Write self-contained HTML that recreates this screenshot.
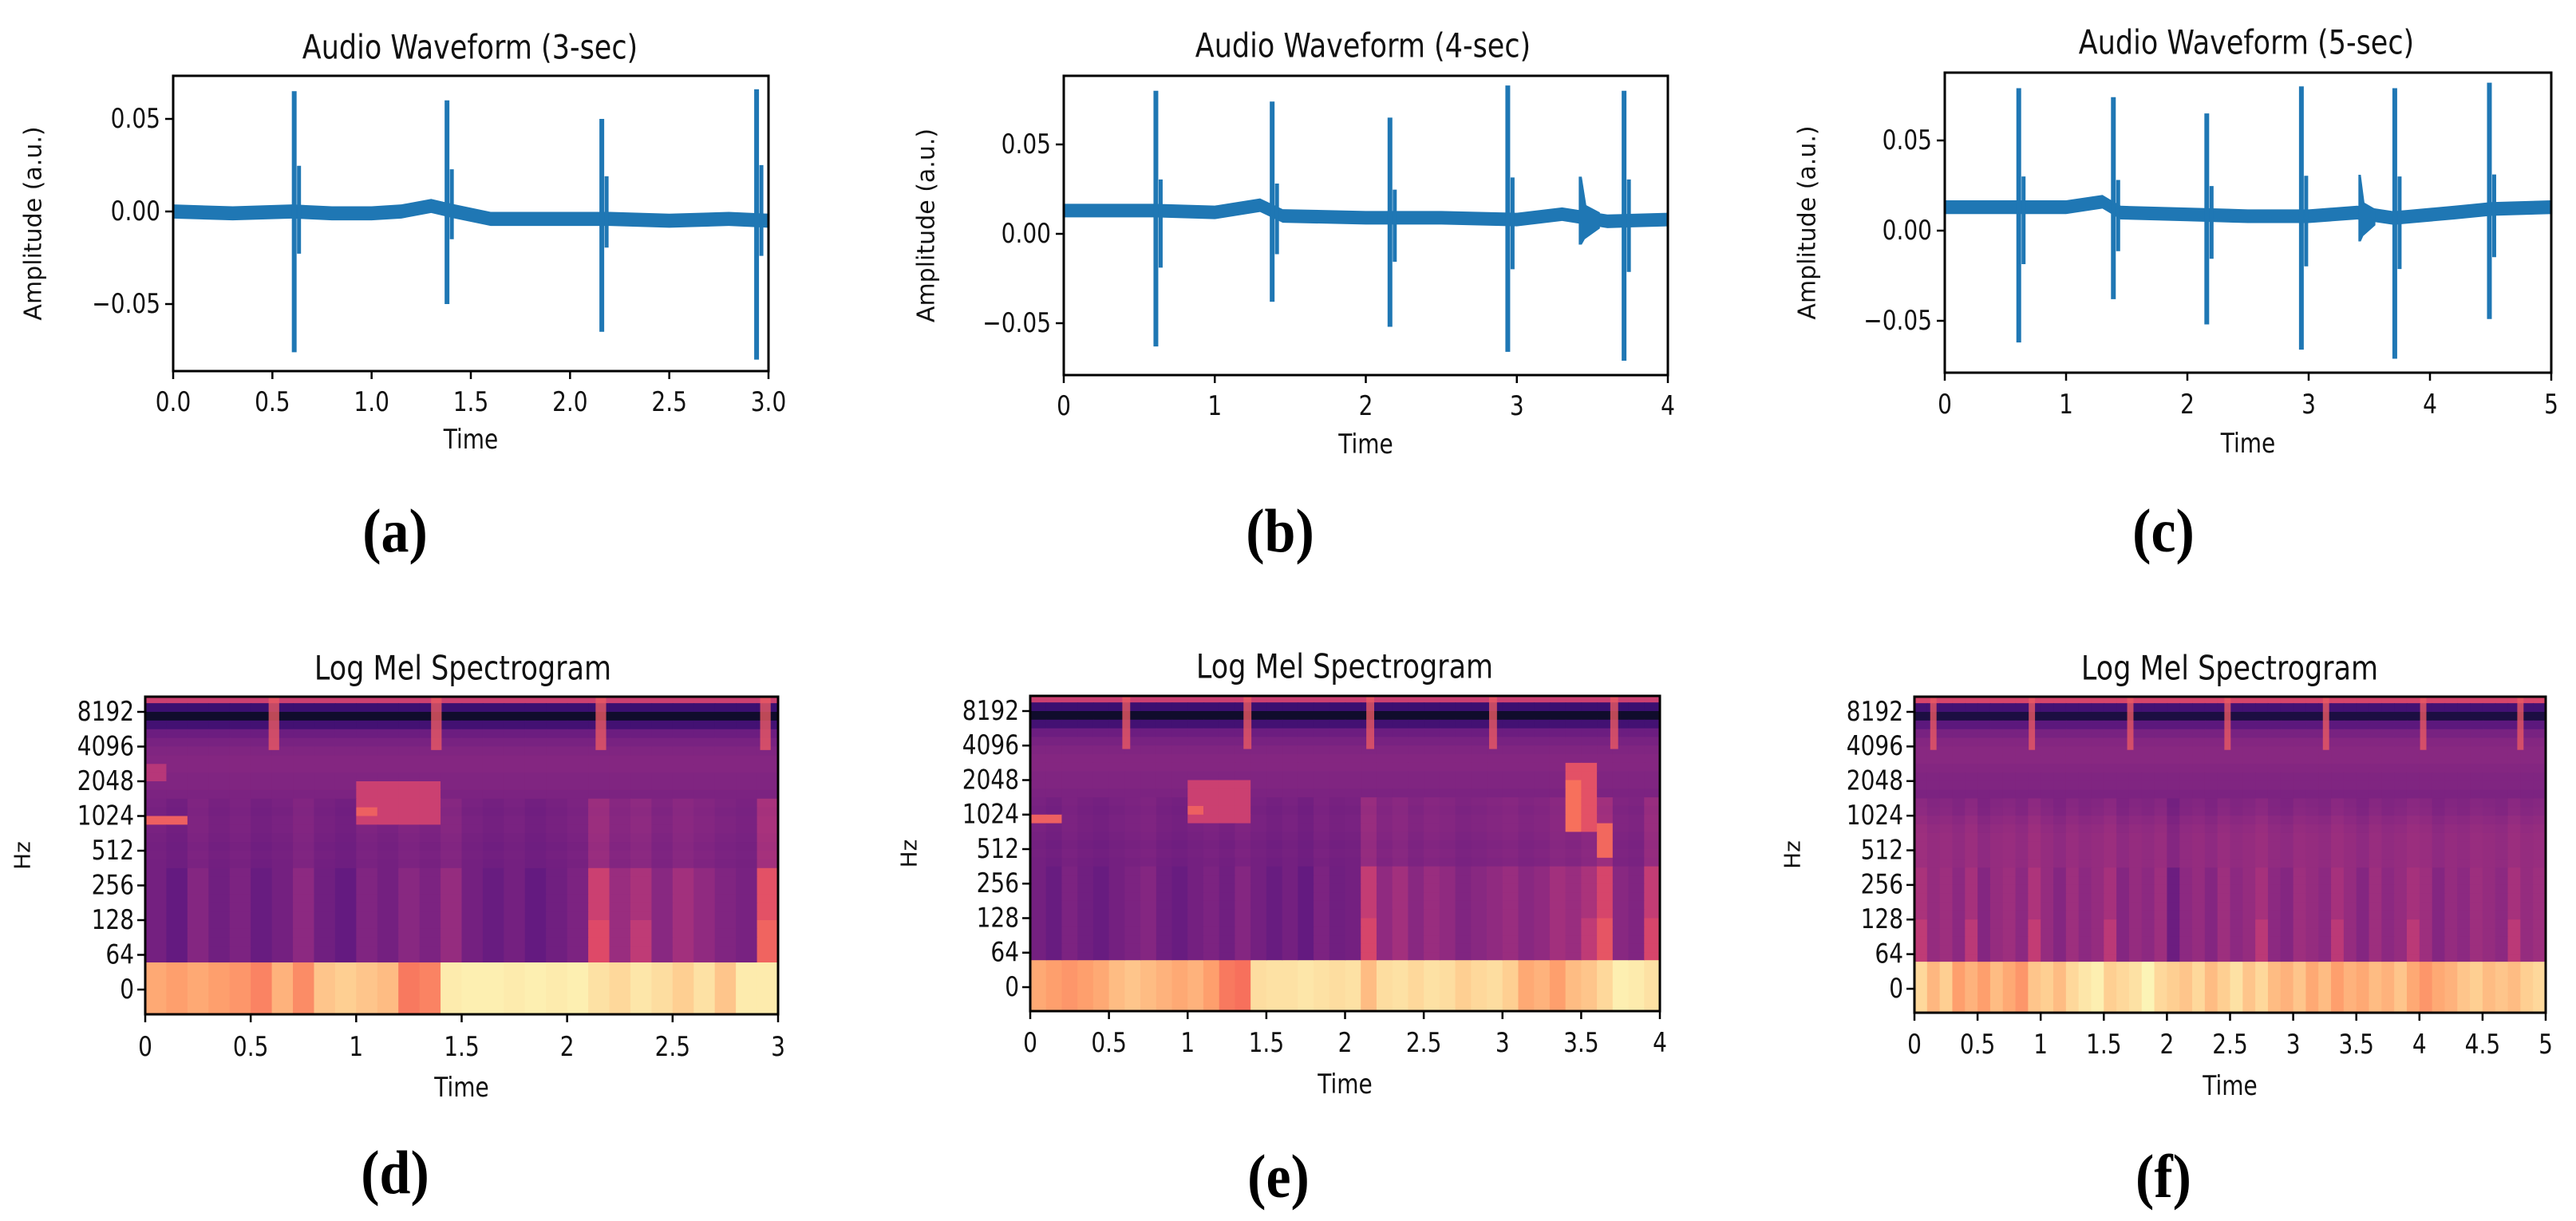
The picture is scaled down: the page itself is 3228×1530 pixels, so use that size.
<!DOCTYPE html>
<html><head><meta charset="utf-8"><style>
html,body{margin:0;padding:0;background:#fff}
svg{display:block}
text{font-family:"DejaVu Sans","Liberation Sans",sans-serif;fill:#111}
.cap{font-family:"Liberation Serif",serif;font-weight:bold;fill:#000}
</style></head><body>
<svg id="fig" width="3228" height="1530" viewBox="0 0 3228 1530" xmlns="http://www.w3.org/2000/svg"></svg>
<script>
// ---------- waveform data ----------
const wfA_spikeTimes=[0.61,1.38,2.16,2.94];
const wfA_spikeMax=[0.065,0.060,0.050,0.066];
const wfA_spikeMin=[-0.076,-0.050,-0.065,-0.080];
const wfA_baseT=[0,0.3,0.6,0.8,1.0,1.15,1.3,1.42,1.6,1.9,2.2,2.5,2.8,3.0];
const wfA_baseV=[0,-0.001,0,-0.001,-0.001,0,0.003,0.0,-0.004,-0.004,-0.004,-0.005,-0.004,-0.005];
const wfA_burstT=[];const wfA_burstMax=[];const wfA_burstMin=[];

const wfB_spikeTimes=[0.61,1.38,2.16,2.94,3.71];
const wfB_spikeMax=[0.080,0.074,0.065,0.083,0.080];
const wfB_spikeMin=[-0.063,-0.038,-0.052,-0.066,-0.071];
const wfB_baseT=[0,0.3,0.6,1.0,1.3,1.45,2.0,2.5,3.0,3.3,3.6,4.0];
const wfB_baseV=[0.013,0.013,0.013,0.012,0.016,0.010,0.009,0.009,0.008,0.011,0.007,0.008];
const wfB_burstT=[3.41];const wfB_burstMax=[0.032];const wfB_burstMin=[-0.006];

const wfC_spikeTimes=[0.61,1.39,2.16,2.94,3.71,4.49];
const wfC_spikeMax=[0.079,0.074,0.065,0.080,0.079,0.082];
const wfC_spikeMin=[-0.062,-0.038,-0.052,-0.066,-0.071,-0.049];
const wfC_baseT=[0,0.6,1.0,1.3,1.45,2.0,2.5,3.0,3.4,3.7,4.2,4.5,5.0];
const wfC_baseV=[0.013,0.013,0.013,0.016,0.010,0.009,0.008,0.008,0.010,0.007,0.010,0.012,0.013];
const wfC_burstT=[3.41];const wfC_burstMax=[0.031];const wfC_burstMin=[-0.006];

// ---------- spectrogram data ----------
const melTickLabels=["8192","4096","2048","1024","512","256","128","64","0"];
const specD_clicks=[0.61,1.38,2.16,2.94];
const specE_clicks=[0.61,1.38,2.16,2.94,3.71];
const specF_clicks=[0.15,0.93,1.71,2.48,3.26,4.03,4.8];
const specD_low=[0.82,0.8,0.82,0.8,0.78,0.74,0.84,0.76,0.88,0.9,0.88,0.86,0.72,0.74,0.96,0.97,0.97,0.96,0.97,0.96,0.97,0.94,0.92,0.95,0.93,0.9,0.94,0.88,0.96,0.96];
const specE_low=[0.82,0.8,0.78,0.8,0.82,0.86,0.88,0.86,0.84,0.82,0.84,0.8,0.72,0.7,0.93,0.94,0.94,0.95,0.94,0.93,0.94,0.86,0.93,0.94,0.92,0.94,0.93,0.9,0.92,0.93,0.9,0.82,0.84,0.8,0.86,0.88,0.92,0.97,0.96,0.94];
const specF_low=[0.92,0.85,0.9,0.8,0.84,0.8,0.86,0.82,0.78,0.88,0.9,0.86,0.92,0.95,0.97,0.9,0.92,0.94,0.98,0.92,0.9,0.88,0.92,0.86,0.9,0.94,0.88,0.92,0.86,0.84,0.88,0.82,0.86,0.8,0.84,0.82,0.86,0.84,0.88,0.82,0.78,0.82,0.84,0.88,0.9,0.86,0.88,0.86,0.9,0.92];
const specD_stripe=[0.34,0.3,0.38,0.33,0.36,0.31,0.34,0.4,0.33,0.3,0.37,0.34,0.39,0.36,0.42,0.34,0.31,0.34,0.3,0.33,0.36,0.55,0.43,0.47,0.39,0.45,0.41,0.37,0.35,0.62];
const specE_stripe=[0.34,0.31,0.36,0.33,0.31,0.34,0.36,0.38,0.33,0.31,0.34,0.36,0.33,0.38,0.34,0.31,0.34,0.3,0.36,0.33,0.34,0.53,0.41,0.45,0.39,0.43,0.41,0.37,0.39,0.41,0.43,0.39,0.41,0.45,0.43,0.47,0.58,0.39,0.37,0.53];
const specF_stripe=[0.47,0.42,0.44,0.4,0.46,0.38,0.42,0.44,0.4,0.48,0.42,0.38,0.44,0.4,0.42,0.46,0.38,0.42,0.4,0.44,0.32,0.4,0.42,0.38,0.44,0.4,0.42,0.46,0.4,0.38,0.44,0.42,0.4,0.46,0.42,0.38,0.44,0.4,0.42,0.46,0.44,0.38,0.42,0.4,0.44,0.42,0.4,0.46,0.42,0.44];
const specDE_profile=[0.55,0.2,0.08,0.22,0.32,0.35,0.37,0.38,0.38,0.37,0.37,0.36,0.36,0.35,0.36,0.36,0.35,0.34,0.35,0.34,0.33,0.34,0.34,0.33,0.34,0.33,0.33,0.32,0.33,0.32,0.33,0.33];
const specF_profile=[0.58,0.22,0.12,0.28,0.35,0.38,0.39,0.39,0.38,0.37,0.37,0.36,0.35,0.36,0.39,0.41,0.42,0.42,0.42,0.42,0.42,0.42,0.42,0.42,0.41,0.41,0.41,0.41,0.41,0.41,0.41,0.41];
const specD_patches=[[1.0,1.35,2.0,3.3,0.55],[1.0,1.1,2.7,3.1,0.66],[0.05,0.2,2.9,3.2,0.66],[0.0,0.15,1.5,2.0,0.5]];
const specE_patches=[[1.0,1.35,2.0,3.3,0.55],[1.0,1.1,2.7,3.1,0.66],[0.05,0.2,2.9,3.2,0.66],[3.38,3.55,1.5,3.5,0.62],[3.38,3.45,2.0,3.5,0.7],[3.65,3.72,3.3,4.3,0.68]];
const specF_patches=[];

const NS="http://www.w3.org/2000/svg";
const svg=document.getElementById('fig');
function el(tag,attrs,parent){const e=document.createElementNS(NS,tag);for(const k in attrs)e.setAttribute(k,attrs[k]);(parent||svg).appendChild(e);return e;}
function txt(s,x,y,size,anchor,parent,cls,sy){const t=el('text',{x:0,y:0,'font-size':size,'text-anchor':anchor||'middle','dominant-baseline':'central',transform:'translate('+x+','+y+') scale(1,'+(sy||1.2)+')'},parent);if(cls)t.setAttribute('class',cls);t.textContent=s;return t;}

const magma=[[0,4,4],[20,14,54],[59,15,112],[100,26,128],[140,41,129],[183,55,121],[222,73,104],[247,112,92],[254,159,109],[254,207,146],[252,253,191]];
function cmap(v){v=Math.max(0,Math.min(1,v));const p=v*10,i=Math.min(9,Math.floor(p)),f=p-i;const a=magma[i],b=magma[i+1];return 'rgb('+a.map((c,k)=>Math.round(c+(b[k]-c)*f)).join(',')+')';}

function waveform(cfg){
  const g=el('g',{});
  
  
  const X=t=>cfg.L+(t/cfg.dur)*(cfg.R-cfg.L);
  const Y=v=>cfg.y0+(v/0.05)*(cfg.y5-cfg.y0);
  let up=[],dn=[];
  for(let i=0;i<cfg.baseT.length;i++){up.push(X(cfg.baseT[i])+','+Y(cfg.baseV[i]+0.0038));dn.unshift(X(cfg.baseT[i])+','+Y(cfg.baseV[i]-0.0038));}
  const band=el('polygon',{points:up.concat(dn).join(' '),fill:'#1f77b4'},g);
  
  
  cfg.spT.forEach((t,i)=>{
    const s=el('line',{x1:X(t),x2:X(t),y1:Y(cfg.spMax[i]),y2:Y(cfg.spMin[i]),stroke:'#1f77b4','stroke-width':6},g);
    
    
    el('line',{x1:X(t)+6,x2:X(t)+6,y1:Y(cfg.spMax[i]*0.38),y2:Y(cfg.spMin[i]*0.3),stroke:'#1f77b4','stroke-width':5},g);
  });
  cfg.buT.forEach((t,i)=>{
    const b=el('polygon',{points:[X(t)+','+Y(cfg.buMax[i]),X(t+0.02)+','+Y(cfg.buMax[i]),X(t+0.05)+','+Y(cfg.buMax[i]*0.5),X(t+0.14)+','+Y(0.012),X(t+0.14)+','+Y(0.003),X(t+0.04)+','+Y(cfg.buMin[i]*0.5),X(t+0.02)+','+Y(cfg.buMin[i]),X(t)+','+Y(cfg.buMin[i])].join(' '),fill:'#1f77b4'},g);
    
    
  });
  const fr=el('rect',{x:cfg.L,y:cfg.T,width:cfg.R-cfg.L,height:cfg.B-cfg.T,fill:'none',stroke:'#000','stroke-width':3},g);
  
  
  [0.05,0,-0.05].forEach(v=>{
    el('line',{x1:cfg.L-10,x2:cfg.L,y1:Y(v),y2:Y(v),stroke:'#000','stroke-width':2.5},g);
    const t=txt(v===0?'0.00':(v>0?'0.05':'\u22120.05'),cfg.L-16,Y(v),28,'end',g);
    
    
  });
  cfg.xt.forEach(v=>{
    el('line',{x1:X(v),x2:X(v),y1:cfg.B,y2:cfg.B+10,stroke:'#000','stroke-width':2.5},g);
    const t=txt(cfg.fmt(v),X(v),cfg.xtY,28,'middle',g);
    
    
  });
  const ti=txt(cfg.title,cfg.titleX,cfg.titleY,35,'middle',g);
  
  
  const xl=txt('Time',(cfg.L+cfg.R)/2,cfg.timeY,28,'middle',g);
  
  
  const yl=el('text',{x:0,y:0,'font-size':30,'text-anchor':'middle','dominant-baseline':'central',transform:'translate('+cfg.ylX+','+((cfg.T+cfg.B)/2)+') rotate(-90)',fill:'#23477a'},g);
  yl.textContent='Amplitude (a.u.)';
  
  
  const c=txt(cfg.cap,cfg.capX,cfg.capY,70,'middle',g,'cap',1.1);
  
  
}

function spectro(cfg){
  const g=el('g',{});
  
  
  const X=t=>cfg.L+(t/cfg.dur)*(cfg.R-cfg.L);
  const U=u=>cfg.y8192+u*(cfg.y0-cfg.y8192)/8;
  const bandU=7.2;
  const nC=cfg.low.length, dt=cfg.dur/nC;
  cfg.low.forEach((v,i)=>{
    const r=el('rect',{x:X(i*dt),y:U(bandU),width:X((i+1)*dt)-X(i*dt)+0.8,height:cfg.B-U(bandU),fill:cmap(v)},g);
    
    
  });
  const nR=cfg.profile.length;
  for(let r=0;r<nR;r++){
    const u0=-0.5+r*0.25;let u1=u0+0.25;
    if(u0>=bandU)continue;
    if(u1>bandU)u1=bandU;
    const ya=Math.max(U(u0),cfg.T), yb=U(u1);
    if(yb<=cfg.T)continue;
    const w=u0>=4.5?1:(u0>=2.5?0.4:0);
    for(let c=0;c<nC;c++){
      const t0=c*dt,tm=t0+dt/2;
      let v=w*cfg.stripe[c]+(1-w)*cfg.profile[r];
      if(u0>=6 && w===1) v=cfg.stripe[c]+(cfg.stripe[c]>0.45?0.05:0);
      cfg.patches.forEach(p=>{if(tm>=p[0]&&tm<=p[1]&&u0+0.12>=p[2]&&u0+0.12<=p[3])v=p[4];});
      const cell=el('rect',{x:X(t0),y:ya,width:X(t0+dt)-X(t0)+0.8,height:yb-ya+0.8,fill:cmap(v)},g);
      
      
    }
  }
  cfg.clicks.forEach(t=>{
    const k=el('rect',{x:X(t-0.025),y:cfg.T,width:X(t+0.025)-X(t-0.025),height:U(1.1)-cfg.T,fill:cmap(0.64),opacity:0.8},g);
    
    
  });
  const fr=el('rect',{x:cfg.L,y:cfg.T,width:cfg.R-cfg.L,height:cfg.B-cfg.T,fill:'none',stroke:'#000','stroke-width':3},g);
  
  
  melTickLabels.forEach((s,i)=>{
    el('line',{x1:cfg.L-10,x2:cfg.L,y1:U(i),y2:U(i),stroke:'#000','stroke-width':2.5},g);
    const t=txt(s,cfg.L-14,U(i),28,'end',g);
    
    
  });
  for(let v=0;v<=cfg.dur+1e-9;v+=0.5){
    el('line',{x1:X(v),x2:X(v),y1:cfg.B,y2:cfg.B+10,stroke:'#000','stroke-width':2.5},g);
    const t=txt(String(Math.round(v*10)/10),X(v),cfg.xtY,28,'middle',g);
    
    
  }
  const ti=txt('Log Mel Spectrogram',cfg.titleX,cfg.titleY,35,'middle',g);
  
  
  const xl=txt('Time',(cfg.L+cfg.R)/2,cfg.timeY,28,'middle',g);
  
  
  const yl=el('text',{x:0,y:0,'font-size':28,'text-anchor':'middle','dominant-baseline':'central',transform:'translate('+cfg.hzX+','+((cfg.T+cfg.B)/2)+') rotate(-90)'},g);
  yl.textContent='Hz';
  
  
  const c=txt(cfg.cap,cfg.capX,cfg.capY,70,'middle',g,'cap',1.1);
  
  
}

waveform({name:'waveform-3sec',L:217,R:963,T:95,B:465,y5:149,y0:265,dur:3,xt:[0,0.5,1,1.5,2,2.5,3],fmt:v=>v.toFixed(1),
  spT:wfA_spikeTimes,spMax:wfA_spikeMax,spMin:wfA_spikeMin,baseT:wfA_baseT,baseV:wfA_baseV,buT:wfA_burstT,buMax:wfA_burstMax,buMin:wfA_burstMin,
  title:'Audio Waveform (3-sec)',titleX:589,titleY:60,xtY:504,timeY:551,ylX:42,cap:'(a)',capX:495,capY:665});
waveform({name:'waveform-4sec',L:1333,R:2090,T:95,B:470,y5:181,y0:293,dur:4,xt:[0,1,2,3,4],fmt:v=>String(v),
  spT:wfB_spikeTimes,spMax:wfB_spikeMax,spMin:wfB_spikeMin,baseT:wfB_baseT,baseV:wfB_baseV,buT:wfB_burstT,buMax:wfB_burstMax,buMin:wfB_burstMin,
  title:'Audio Waveform (4-sec)',titleX:1708,titleY:58,xtY:509,timeY:557,ylX:1161,cap:'(b)',capX:1604,capY:665});
waveform({name:'waveform-5sec',L:2437,R:3197,T:91,B:467,y5:176,y0:289,dur:5,xt:[0,1,2,3,4,5],fmt:v=>String(v),
  spT:wfC_spikeTimes,spMax:wfC_spikeMax,spMin:wfC_spikeMin,baseT:wfC_baseT,baseV:wfC_baseV,buT:wfC_burstT,buMax:wfC_burstMax,buMin:wfC_burstMin,
  title:'Audio Waveform (5-sec)',titleX:2815,titleY:54,xtY:507,timeY:556,ylX:2265,cap:'(c)',capX:2711,capY:665});

spectro({name:'spectrogram-3sec',L:182,R:975,T:873,B:1271,y8192:892,y0:1240,dur:3,low:specD_low,stripe:specD_stripe,profile:specDE_profile,patches:specD_patches,clicks:specD_clicks,
  titleX:580,titleY:838,xtY:1312,timeY:1363,hzX:28,cap:'(d)',capX:495,capY:1469});
spectro({name:'spectrogram-4sec',L:1291,R:2080,T:872,B:1267,y8192:891,y0:1237,dur:4,low:specE_low,stripe:specE_stripe,profile:specDE_profile,patches:specE_patches,clicks:specE_clicks,
  titleX:1685,titleY:836,xtY:1307,timeY:1359,hzX:1139,cap:'(e)',capX:1602,capY:1474});
spectro({name:'spectrogram-5sec',L:2399,R:3190,T:873,B:1269,y8192:892,y0:1239,dur:5,low:specF_low,stripe:specF_stripe,profile:specF_profile,patches:specF_patches,clicks:specF_clicks,
  titleX:2794,titleY:838,xtY:1309,timeY:1361,hzX:2246,cap:'(f)',capX:2711,capY:1474});
</script>
</body></html>
